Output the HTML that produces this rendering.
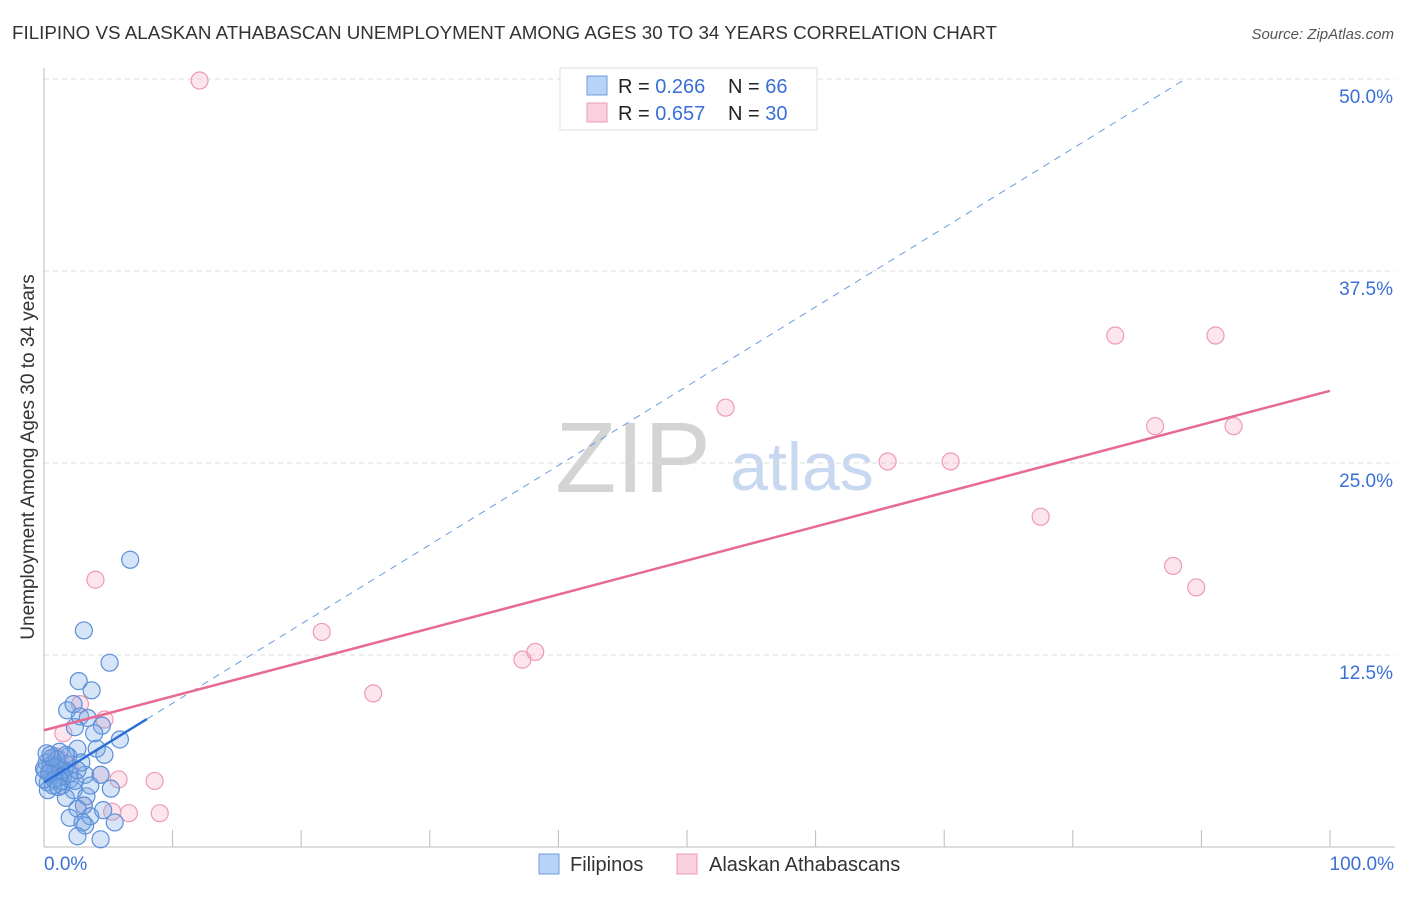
<!DOCTYPE html>
<html><head><meta charset="utf-8"><style>
body{margin:0;background:#fff;font-family:"Liberation Sans",sans-serif;}
svg text{font-family:"Liberation Sans",sans-serif;}
</style></head><body>
<svg id="c" width="1406" height="892">
<text x="12" y="39" font-size="18" fill="#333" textLength="985" lengthAdjust="spacingAndGlyphs">FILIPINO VS ALASKAN ATHABASCAN UNEMPLOYMENT AMONG AGES 30 TO 34 YEARS CORRELATION CHART</text>
<text x="1394" y="39" font-size="15" fill="#555" font-style="italic" text-anchor="end">Source: ZipAtlas.com</text>
<text x="34" y="457" font-size="19" fill="#333" text-anchor="middle" transform="rotate(-90 34 457)">Unemployment Among Ages 30 to 34 years</text>
<text x="633" y="492" font-size="100" fill="#d4d4d4" font-family="Liberation Serif" text-anchor="middle">ZIP</text>
<text x="802" y="490" font-size="68" fill="#c8d8f0" text-anchor="middle">atlas</text>
<g id="grid"></g><g id="marks"></g>
<g>
<rect x="560" y="68" width="257" height="62" fill="#fff" stroke="#ddd"/>
<rect x="587" y="76" width="20" height="19" fill="#b8d3f5" stroke="#6c9de0"/>
<rect x="587" y="103" width="20" height="19" fill="#fbd0dd" stroke="#ee9ab5"/>
<text x="618" y="93" font-size="20" fill="#222">R = <tspan fill="#3a6fd8">0.266</tspan></text>
<text x="728" y="93" font-size="20" fill="#222">N = <tspan fill="#3a6fd8">66</tspan></text>
<text x="618" y="120" font-size="20" fill="#222">R = <tspan fill="#3a6fd8">0.657</tspan></text>
<text x="728" y="120" font-size="20" fill="#222">N = <tspan fill="#3a6fd8">30</tspan></text>
</g>
<g>
<rect x="539" y="854" width="20" height="20" fill="#b8d3f5" stroke="#6c9de0"/>
<text x="570" y="871" font-size="20" fill="#333">Filipinos</text>
<rect x="677" y="854" width="20" height="20" fill="#fbd0dd" stroke="#ee9ab5"/>
<text x="709" y="871" font-size="20" fill="#333">Alaskan Athabascans</text>
</g>
</svg>
<script>
const yTicks=[12.5,25,37.5,50];
const yTickLabels=["12.5%","25.0%","37.5%","50.0%"];
const xTickLabels=["0.0%","100.0%"];
const blueX=[6.7,3.1,5.1,2.7,3.7,1.8,2.3,2.8,3.4,4.5,2.4,3.9,5.9,2.6,4.1,4.7,1.9,1.2,0.5,0.2,0.9,1.6,0.6,1.1,2.0,0.1,0.3,1.4,2.3,3.2,4.4,5.2,1.7,3.3,3.1,2.6,3.6,4.6,2.0,3.0,5.5,3.2,2.6,4.4,0.9,1.2,0.5,1.8,0.0,1.0,1.5,2.0,0.7,0.3,0.0,1.3,2.4,0.6,1.7,2.9,0.2,0.8,2.6,1.1,3.6,0.4];
const blueY=[18.7,14.1,12.0,10.8,10.2,8.9,9.3,8.5,8.4,7.9,7.8,7.4,7.0,6.4,6.4,6.0,5.9,6.2,6.0,5.5,5.3,5.0,4.7,4.5,4.4,5.0,4.2,4.0,3.7,4.7,4.7,3.8,3.2,3.3,2.7,2.5,2.0,2.4,1.9,1.6,1.6,1.4,0.7,0.5,4.9,5.2,5.3,5.4,5.1,5.7,4.6,4.8,4.0,3.7,4.4,4.3,4.3,5.8,6.0,5.5,6.1,4.4,5.0,3.9,4.0,4.8];
const pinkX=[12.1,83.3,91.1,53.0,86.4,92.5,65.6,70.5,77.5,87.8,89.6,4.0,21.6,38.2,37.2,25.6,2.8,4.7,1.5,0.9,4.4,5.8,8.6,6.6,5.3,9.0,3.1,0.5,1.2,2.0];
const pinkY=[49.9,33.3,33.3,28.6,27.4,27.4,25.1,25.1,21.5,18.3,16.9,17.4,14.0,12.7,12.2,10.0,9.3,8.3,7.4,5.9,4.7,4.4,4.3,2.2,2.3,2.2,2.7,5.0,5.7,5.3];
const blueFit=[4.2,51.6];
const pinkFit=[7.6,22.1];
const X0=44,X1=1330,Y0=847,Y50=79;
const sx=v=>X0+(X1-X0)*v/100, sy=v=>Y0-(Y0-Y50)*v/50;
const NS="http://www.w3.org/2000/svg";
function mk(p,t,a){const e=document.createElementNS(NS,t);for(const k in a)e.setAttribute(k,a[k]);p.appendChild(e);return e;}
const g=document.getElementById('grid'),m=document.getElementById('marks');
yTicks.forEach((t,i)=>{
 const l=mk(g,'line',{x1:X0,x2:1395,y1:sy(t),y2:sy(t),stroke:'#ddd','stroke-dasharray':'5,4'});
 
 
 const tx=mk(g,'text',{x:1393,y:sy(t)+24,'font-size':19,fill:'#3a6fd8','text-anchor':'end'});tx.textContent=yTickLabels[i];
 
 
});
mk(g,'line',{x1:X0,x2:X0,y1:68,y2:Y0,stroke:'#bbb'});
mk(g,'line',{x1:X0,x2:1395,y1:Y0,y2:Y0,stroke:'#bbb'});
for(let i=1;i<=10;i++){mk(g,'line',{x1:sx(i*10),x2:sx(i*10),y1:830,y2:Y0,stroke:'#bbb'});}
[[0,'start',44],[100,'end',1394]].forEach((d,i)=>{const t=mk(g,'text',{x:d[2],y:870,'font-size':19,fill:'#3a6fd8','text-anchor':d[1]});t.textContent=xTickLabels[i];
 
 });
pinkX.forEach((x,i)=>{const c=mk(m,'circle',{cx:sx(x),cy:sy(pinkY[i]),r:8.5,fill:'rgba(245,160,190,0.28)',stroke:'#ee9ab5','stroke-width':1.2});
 
 });
blueX.forEach((x,i)=>{const c=mk(m,'circle',{cx:sx(x),cy:sy(blueY[i]),r:8.5,fill:'rgba(120,165,230,0.3)',stroke:'#5b8fd9','stroke-width':1.2});
 
 });
const bx2=(50-blueFit[0])/blueFit[1]*100;
const dl=mk(m,'line',{x1:sx(8),y1:sy(blueFit[0]+blueFit[1]*0.08),x2:sx(bx2),y2:sy(50),stroke:'#6a9be0','stroke-dasharray':'7,6','stroke-width':1});


const bl=mk(m,'line',{x1:sx(0),y1:sy(blueFit[0]),x2:sx(8),y2:sy(blueFit[0]+blueFit[1]*0.08),stroke:'#2b6fd6','stroke-width':2.5});


const pl=mk(m,'line',{x1:sx(0),y1:sy(pinkFit[0]),x2:sx(100),y2:sy(pinkFit[0]+pinkFit[1]),stroke:'#e76a94','stroke-width':2.5});


</script>
</body></html>
